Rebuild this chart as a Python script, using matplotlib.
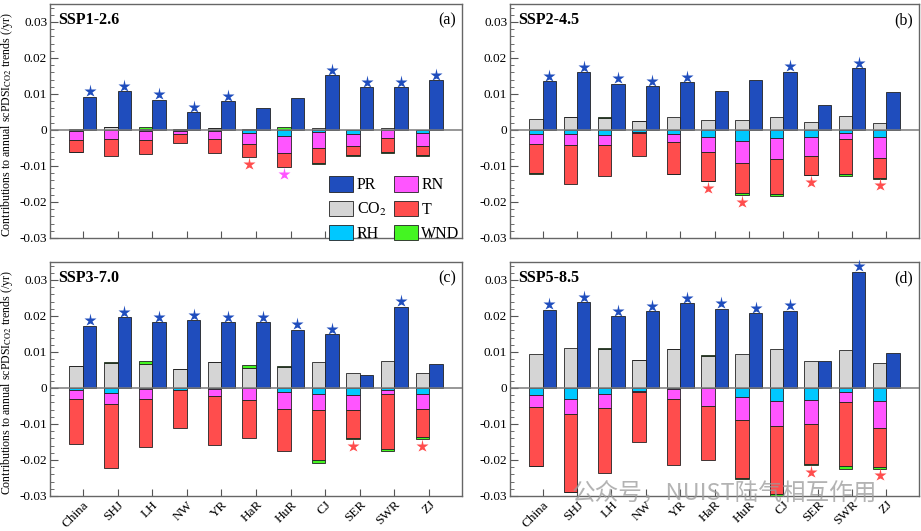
import matplotlib
matplotlib.use("Agg")
import matplotlib.pyplot as plt
from matplotlib.patches import Patch
from matplotlib.ticker import MultipleLocator, FixedLocator
import numpy as np

plt.rcParams["font.family"] = ["Liberation Serif", "DejaVu Serif"]
plt.rcParams["mathtext.fontset"] = "stix"

regions = ["China", "SHJ", "LH", "NW", "YR", "HaR", "HuR", "CJ", "SER", "SWR", "ZJ"]
scenarios = ["SSP1-2.6", "SSP2-4.5", "SSP3-7.0", "SSP5-8.5"]
panel_tags = ["(a)", "(b)", "(c)", "(d)"]

# contributions per scenario (rows) and region (columns)
pr = [
    [0.0092, 0.0107, 0.0084, 0.0049, 0.0080, 0.0061, 0.0089, 0.0152, 0.0119, 0.0119, 0.0139],
    [0.0136, 0.0161, 0.0129, 0.0122, 0.0132, 0.0107, 0.0138, 0.0162, 0.0070, 0.0172, 0.0105],
    [0.0173, 0.0197, 0.0182, 0.0189, 0.0182, 0.0182, 0.0162, 0.0149, 0.0036, 0.0226, 0.0067],
    [0.0218, 0.0238, 0.0200, 0.0214, 0.0236, 0.0220, 0.0207, 0.0215, 0.0076, 0.0323, 0.0097],
]
co2 = [
    [0.0003, 0.0007, 0.0003, 0.0003, 0.0006, 0.0003, 0.0001, 0.0005, 0.0000, 0.0005, 0.0000],
    [0.0031, 0.0037, 0.0034, 0.0026, 0.0035, 0.0027, 0.0028, 0.0035, 0.0022, 0.0038, 0.0020],
    [0.0062, 0.0070, 0.0066, 0.0053, 0.0072, 0.0056, 0.0059, 0.0071, 0.0043, 0.0076, 0.0041],
    [0.0094, 0.0111, 0.0109, 0.0079, 0.0109, 0.0090, 0.0094, 0.0109, 0.0075, 0.0105, 0.0070],
]
rh = [
    [-0.0002, 0.0002, -0.0002, -0.0002, -0.0003, -0.0009, -0.0017, -0.0006, -0.0010, -0.0001, -0.0008],
    [-0.0012, -0.0012, -0.0013, -0.0006, -0.0010, -0.0019, -0.0031, -0.0022, -0.0020, -0.0008, -0.0020],
    [-0.0006, -0.0014, -0.0004, -0.0005, -0.0002, -0.0001, -0.0012, -0.0018, -0.0019, -0.0006, -0.0016],
    [-0.0019, -0.0030, -0.0016, -0.0007, -0.0002, -0.0001, -0.0024, -0.0035, -0.0033, -0.0012, -0.0037],
]
rn = [
    [-0.0026, -0.0026, -0.0025, -0.0008, -0.0022, -0.0031, -0.0046, -0.0043, -0.0035, -0.0020, -0.0037],
    [-0.0028, -0.0030, -0.0030, -0.0001, -0.0024, -0.0042, -0.0061, -0.0059, -0.0051, -0.0017, -0.0057],
    [-0.0024, -0.0031, -0.0026, -0.0001, -0.0020, -0.0031, -0.0046, -0.0042, -0.0043, -0.0012, -0.0042],
    [-0.0033, -0.0041, -0.0039, -0.0005, -0.0029, -0.0049, -0.0064, -0.0071, -0.0068, -0.0027, -0.0074],
]
t = [
    [-0.0033, -0.0046, -0.0040, -0.0026, -0.0038, -0.0036, -0.0040, -0.0044, -0.0025, -0.0040, -0.0025],
    [-0.0080, -0.0107, -0.0085, -0.0065, -0.0088, -0.0080, -0.0083, -0.0096, -0.0053, -0.0096, -0.0056],
    [-0.0125, -0.0176, -0.0135, -0.0106, -0.0137, -0.0108, -0.0116, -0.0141, -0.0076, -0.0151, -0.0078],
    [-0.0164, -0.0217, -0.0181, -0.0137, -0.0182, -0.0150, -0.0163, -0.0188, -0.0110, -0.0177, -0.0108],
]
wnd = [
    [-0.0001, 0.0000, 0.0004, 0.0000, 0.0000, 0.0001, 0.0006, -0.0002, -0.0001, -0.0004, -0.0001],
    [-0.0001, 0.0000, 0.0003, 0.0000, -0.0001, -0.0001, -0.0006, -0.0006, -0.0001, -0.0006, -0.0002],
    [0.0000, 0.0003, 0.0010, 0.0000, 0.0000, 0.0007, 0.0002, -0.0006, -0.0005, -0.0007, -0.0005],
    [-0.0001, -0.0001, 0.0003, 0.0000, 0.0000, 0.0003, -0.0001, -0.0007, -0.0004, -0.0009, -0.0005],
]

# significance marks: 1 = star
pr_sig = [
    [1, 1, 1, 1, 1, 0, 0, 1, 1, 1, 1],
    [1, 1, 1, 1, 1, 0, 0, 1, 0, 1, 0],
    [1, 1, 1, 1, 1, 1, 1, 1, 0, 1, 0],
    [1, 1, 1, 1, 1, 1, 1, 1, 0, 1, 0],
]
t_sig = [
    [0, 0, 0, 0, 0, 1, 0, 0, 0, 0, 0],
    [0, 0, 0, 0, 0, 1, 1, 0, 1, 0, 1],
    [0, 0, 0, 0, 0, 0, 0, 0, 1, 0, 1],
    [0, 0, 0, 0, 0, 0, 0, 0, 1, 0, 1],
]
rn_sig = [
    [0, 0, 0, 0, 0, 0, 1, 0, 0, 0, 0],
    [0] * 11,
    [0] * 11,
    [0] * 11,
]

C_PR = "#1f4dbd"
C_CO2 = "#d5d5d5"
C_RH = "#00c8ff"
C_RN = "#ff55ff"
C_T = "#ff4d4d"
C_WND = "#44f522"
EDGE = "#222222"

fig = plt.figure(figsize=(9.21, 5.31), dpi=100)
W, H = 921, 531
boxes = [(50, 4, 462, 238), (510, 4, 919, 238),
         (50, 262, 462, 496), (510, 262, 919, 496)]

x = np.arange(len(regions))
bw = 0.39

for k in range(4):
    l, tp, r, b = boxes[k]
    ax = fig.add_axes([l / W, 1 - b / H, (r - l) / W, (b - tp) / H])

    comps = [(co2[k], C_CO2), (rh[k], C_RH), (rn[k], C_RN), (t[k], C_T), (wnd[k], C_WND)]
    pos = np.zeros(len(regions))
    neg = np.zeros(len(regions))
    for vals, col in comps:
        v = np.array(vals)
        bottom = np.where(v >= 0, pos, neg)
        ax.bar(x - bw / 2, v, bw, bottom=bottom, color=col,
               edgecolor=EDGE, linewidth=0.6, zorder=2)
        pos = pos + np.where(v > 0, v, 0)
        neg = neg + np.where(v < 0, v, 0)
    ax.bar(x + bw / 2, pr[k], bw, color=C_PR, edgecolor=EDGE, linewidth=0.6, zorder=2)

    # stars
    prv = np.array(pr[k])
    s = np.array(pr_sig[k]) == 1
    ax.plot(x[s] + bw / 2, prv[s] + 0.0015, "*", color=C_PR, ms=9.5, mec="none",
            zorder=4, clip_on=False)
    s = np.array(t_sig[k]) == 1
    ax.plot(x[s] - bw / 2, neg[s] - 0.0019, "*", color=C_T, ms=9.5, mec="none", zorder=4)
    s = np.array(rn_sig[k]) == 1
    ax.plot(x[s] - bw / 2, neg[s] - 0.0019, "*", color=C_RN, ms=9.5, mec="none", zorder=4)

    ax.axhline(0, color="#7a7a7a", lw=1.1, zorder=3)

    ax.set_xlim(-0.95, len(regions) - 0.05)
    ax.set_ylim(-0.03, 0.035)
    ax.yaxis.set_major_locator(FixedLocator([-0.03, -0.02, -0.01, 0, 0.01, 0.02, 0.03]))
    ax.set_yticklabels(["-0.03", "-0.02", "-0.01", "0", "0.01", "0.02", "0.03"])
    ax.yaxis.set_minor_locator(MultipleLocator(0.002))
    ax.tick_params(axis="y", which="major", direction="in", length=6, width=0.8,
                   color="#555555", labelsize=9.5, pad=2)
    ax.tick_params(axis="y", which="minor", direction="in", length=3, width=0.6,
                   color="#555555")
    ax.set_xticks(x)
    ax.tick_params(axis="x", direction="in", length=5, width=0.8, color="#555555",
                   labelsize=9.5, pad=2)
    if k >= 2:
        ax.set_xticklabels(regions, rotation=45, ha="right", va="top",
                           rotation_mode="anchor")
    else:
        ax.set_xticklabels([])
    for sp in ax.spines.values():
        sp.set_color("#666666")
        sp.set_linewidth(1.0)

    ax.text(0.02, 0.965, scenarios[k], transform=ax.transAxes, ha="left", va="top",
            fontsize=11.5, fontweight="bold")
    ax.text(0.985, 0.965, panel_tags[k], transform=ax.transAxes, ha="right", va="top",
            fontsize=11.5)

    if k in (0, 2):
        ax.set_ylabel("Contributions to annual scPDSI$_{\\mathrm{CO2}}$ trends (/yr)",
                      fontsize=8.6)
        ax.yaxis.set_label_coords(-0.085, 0.485)

    if k == 0:
        handles = [Patch(facecolor=C_PR, edgecolor=EDGE, lw=0.6, label="PR"),
                   Patch(facecolor=C_CO2, edgecolor=EDGE, lw=0.6, label="CO$_2$"),
                   Patch(facecolor=C_RH, edgecolor=EDGE, lw=0.6, label="RH"),
                   Patch(facecolor=C_RN, edgecolor=EDGE, lw=0.6, label="RN"),
                   Patch(facecolor=C_T, edgecolor=EDGE, lw=0.6, label="T"),
                   Patch(facecolor=C_WND, edgecolor=EDGE, lw=0.6, label="WND")]
        ax.legend(handles=handles, ncol=2, loc="lower right", frameon=False,
                  fontsize=11.5, handlelength=1.5, handleheight=1.1,
                  handletextpad=0.2, columnspacing=0.5, labelspacing=0.45,
                  borderaxespad=0.0, bbox_to_anchor=(1.01, -0.045))

fig.text(0.787, 0.07, "公众号，NUIST陆气相互作用", fontsize=17, color="#9a9a9a",
         alpha=0.75, ha="center", va="center",
         family=["Noto Sans CJK SC", "DejaVu Sans"])

fig.savefig("out.png", dpi=100)
